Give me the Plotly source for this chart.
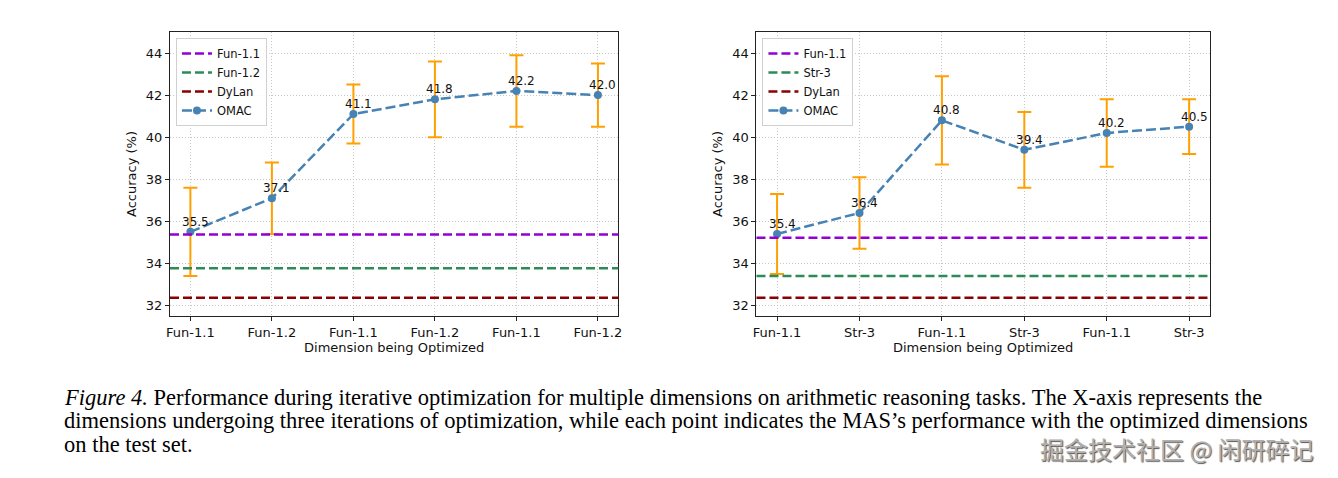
import plotly.graph_objects as go

# ---------------- data ----------------
left_labels = ["Fun-1.1", "Fun-1.2", "Fun-1.1", "Fun-1.2", "Fun-1.1", "Fun-1.2"]
left_omac = [35.5, 37.1, 41.1, 41.8, 42.2, 42.0]
left_err = [2.1, 1.7, 1.4, 1.8, 1.7, 1.5]
left_base_names = ["Fun-1.1", "Fun-1.2", "DyLan"]
left_base_values = [35.37, 33.77, 32.37]

right_labels = ["Fun-1.1", "Str-3", "Fun-1.1", "Str-3", "Fun-1.1", "Str-3"]
right_omac = [35.4, 36.4, 40.8, 39.4, 40.2, 40.5]
right_err = [1.9, 1.7, 2.1, 1.8, 1.6, 1.3]
right_base_names = ["Fun-1.1", "Str-3", "DyLan"]
right_base_values = [35.22, 33.40, 32.37]

y_ticks = [32, 34, 36, 38, 40, 42, 44]

caption_lines = [
    "<i>Figure 4.</i> Performance during iterative optimization for multiple dimensions on arithmetic reasoning tasks. The X-axis represents the",
    "dimensions undergoing three iterations of optimization, while each point indicates the MAS’s performance with the optimized dimensions",
    "on the test set.",
]
watermark = "掘金技术社区 @ 闲研碎记"

# ---------------- style ----------------
W, H = 1338, 478
base_colors = ["#9400D3", "#2E8B57", "#8B0000"]
omac_color = "#4682B4"
err_color = "#FFA000"
FONT = "DejaVu Sans"

fig = go.Figure()

panels = [
    dict(labels=left_labels, omac=left_omac, err=left_err, bnames=left_base_names,
         bvals=left_base_values, xa="x", ya="y", dom=[167 / W, 618 / W], legend="legend"),
    dict(labels=right_labels, omac=right_omac, err=right_err, bnames=right_base_names,
         bvals=right_base_values, xa="x2", ya="y2", dom=[757 / W, 1213 / W], legend="legend2"),
]

annotations = []
for p in panels:
    xs = list(range(len(p["labels"])))
    for k, (nm, val) in enumerate(zip(p["bnames"], p["bvals"])):
        fig.add_shape(type="line", xref=p["xa"] + " domain", yref=p["ya"],
                      x0=0, x1=1, y0=val, y1=val,
                      line=dict(color=base_colors[k], width=2.5, dash="9px,4px"),
                      showlegend=True, name=nm, legend=p["legend"], legendrank=k + 1)
    fig.add_trace(go.Scatter(
        x=xs, y=p["omac"], xaxis=p["xa"], yaxis=p["ya"], name="OMAC",
        mode="lines+markers",
        line=dict(color=omac_color, width=2.5, dash="10px,4px"),
        marker=dict(color=omac_color, size=8),
        error_y=dict(type="data", array=p["err"], color=err_color, thickness=2, width=7),
        legend=p["legend"], legendrank=4,
    ))
    for xi, v in zip(xs, p["omac"]):
        annotations.append(dict(x=xi, y=v, xref=p["xa"], yref=p["ya"], text=f"{v:.1f}",
                                showarrow=False, xanchor="center", yanchor="bottom",
                                xshift=5, yshift=1, font=dict(family=FONT, size=12, color="#111")))

axis_common = dict(showline=True, mirror=True, linecolor="#222", linewidth=1,
                   ticks="outside", ticklen=4, tickcolor="#222",
                   showgrid=True, gridcolor="#c8c8c8", griddash="1px,2px", gridwidth=1,
                   zeroline=False, tickfont=dict(family=FONT, size=13, color="#111"))

for i, p in enumerate(panels):
    sfx = "" if i == 0 else "2"
    fig.update_layout(**{
        "xaxis" + sfx: dict(axis_common, domain=p["dom"], range=[-0.25, len(p["labels"]) - 0.75],
                            tickmode="array", tickvals=list(range(len(p["labels"]))),
                            ticktext=p["labels"], anchor="y" + sfx,
                            title=dict(text="Dimension being Optimized", standoff=2,
                                       font=dict(family=FONT, size=13, color="#111"))),
        "yaxis" + sfx: dict(axis_common, domain=[1 - 316 / H, 1 - 32 / H], range=[31.5, 45.0],
                            tickmode="array", tickvals=y_ticks, anchor="x" + sfx,
                            title=dict(text="Accuracy (%)", standoff=6,
                                       font=dict(family=FONT, size=13, color="#111"))),
    })

legend_common = dict(xanchor="left", yanchor="top", bgcolor="rgba(255,255,255,0.85)",
                     bordercolor="#d0d0d0", borderwidth=1, itemwidth=30,
                     font=dict(family=FONT, size=11.5, color="#111"), tracegroupgap=0)
fig.update_layout(
    legend=dict(legend_common, x=173 / W, y=1 - 38 / H),
    legend2=dict(legend_common, x=763 / W, y=1 - 38 / H),
)

cap_y = [401, 424.5, 448]
for line, yb in zip(caption_lines, cap_y):
    annotations.append(dict(x=62 / W, y=1 - yb / H, xref="paper", yref="paper", text=line,
                            showarrow=False, xanchor="left", yanchor="bottom",
                            xshift=-4, yshift=-11,
                            font=dict(family="Liberation Serif", size=22.5, color="black")))
annotations.append(dict(x=1319 / W, y=1 - 448 / H, xref="paper", yref="paper", text=watermark,
                        showarrow=False, xanchor="right", yanchor="middle",
                        font=dict(family="Noto Sans CJK SC", size=24, color="#b0b0b0",
                                  shadow="1px 1px 1px #555")))

fig.update_layout(width=W, height=H, margin=dict(l=0, r=0, t=0, b=0),
                  paper_bgcolor="white", plot_bgcolor="white",
                  annotations=annotations, showlegend=True)

fig.write_html("out.html")
